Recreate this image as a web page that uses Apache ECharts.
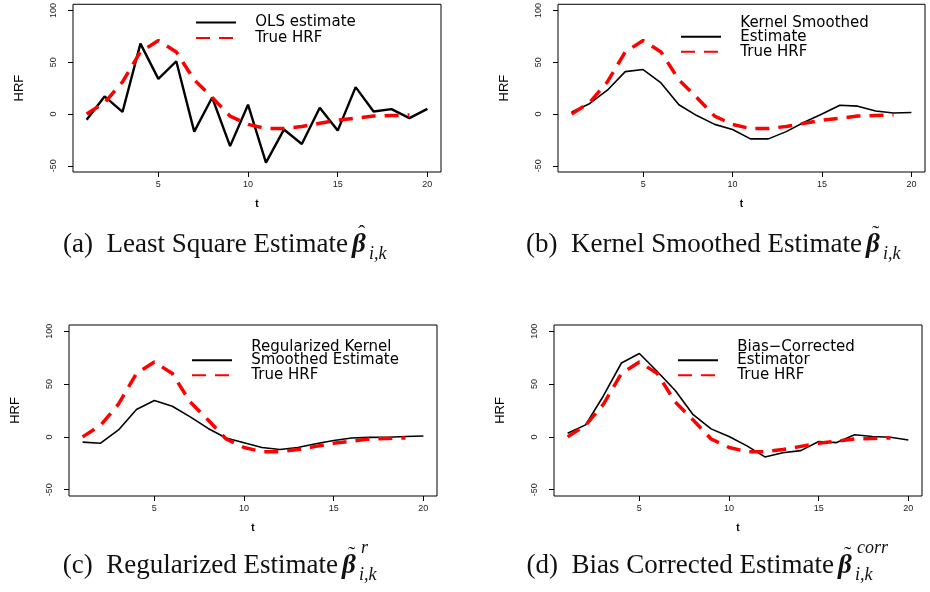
<!DOCTYPE html>
<html>
<head>
<meta charset="utf-8">
<script src="https://cdn.jsdelivr.net/npm/echarts@6/dist/echarts.min.js"></script>
<style>
  html, body { margin: 0; padding: 0; background: #fff; }
  #chart { width: 930px; height: 592px; }
</style>
</head>
<body>
<div id="chart"></div>
<script>
// time points and tick labels
const tValues = [1, 2, 3, 4, 5, 6, 7, 8, 9, 10, 11, 12, 13, 14, 15, 16, 17, 18, 19, 20]
const xTicks = [5, 10, 15, 20]
const yTicks = [-50, 0, 50, 100]

// true HRF (red dashed, drawn in every panel)
const trueHRF = [0, 11, 31, 60, 71, 60, 33, 16, -2, -10, -14, -14, -12, -9, -6, -4, -2, -1.5, -1]

// estimates (black)
const olsEst = [-5.5, 17, 2, 68, 34, 51, -17, 16, -31, 9, -47, -15, -29, 6, -16, 26, 2.5, 4.7, -4, 5]
const kernelEst = [2, 10, 23, 41, 43, 30, 9, -1.5, -10, -15, -24, -24, -17, -8, 0, 8.5, 7.6, 3, 1, 1.5]
const regEst = [-5, -6, 6.6, 26, 34.5, 29, 19, 8, -1, -5.5, -10, -12, -10, -6.5, -3.5, -1, -0.5, -0.3, 0.3, 0.8]
const biasEst = [3.5, 11.4, 39, 70, 79, 62, 44, 21, 7.6, 0.3, -8.5, -19, -15, -13, -4.4, -5.4, 2, 0.3, -0.3, -3]

const estNames = ['OLS estimate', 'Kernel Smoothed\nEstimate', 'Regularized Kernel\nSmoothed Estimate', 'Bias\u2212Corrected\nEstimator']
const estData = [olsEst, kernelEst, regEst, biasEst]

const pairs = (ys) => ys.map((y, i) => [tValues[i], y])

const chart = echarts.init(document.getElementById('chart'))

const grids = [
  { left: 73, top: 2, width: 368, height: 170 },
  { left: 558, top: 2, width: 367, height: 170 },
  { left: 69, top: 325, width: 368, height: 171 },
  { left: 554, top: 325, width: 368, height: 171 },
]

const LH = 13.5
const legendPos = [
  { left: 195, top: 15, itemGap: 0.5 },
  { left: 680, top: 15.75, itemGap: -LH },
  { left: 191, top: 339.25, itemGap: -LH },
  { left: 677, top: 339.25, itemGap: -LH },
]

const xAxes = grids.map((g, i) => ({
  type: 'value',
  gridIndex: i,
  min: 0.24,
  max: 20.76,
  axisLine: { show: false, onZero: false },
  splitLine: { show: false },
  axisTick: { show: true, length: 5, customValues: xTicks, lineStyle: { color: '#000' } },
  axisLabel: { customValues: xTicks, fontSize: 9, color: '#222', margin: 8, fontFamily: 'Liberation Sans' },
  name: 't',
  nameLocation: 'middle',
  nameGap: 27,
  nameTextStyle: { fontSize: 10, fontWeight: 'bold', color: '#000', fontFamily: 'Liberation Sans' },
}))

const yAxes = grids.map((g, i) => ({
  type: 'value',
  gridIndex: i,
  min: -56,
  max: 106,
  axisLine: { show: false, onZero: false },
  splitLine: { show: false },
  axisTick: { show: true, length: 5, customValues: yTicks, lineStyle: { color: '#000' } },
  axisLabel: { customValues: yTicks, rotate: 90, fontSize: 9, color: '#222', margin: 15, fontFamily: 'Liberation Sans' },
  name: 'HRF',
  nameLocation: 'middle',
  nameGap: 47,
  nameTextStyle: { fontSize: 13, color: '#000', fontFamily: 'Liberation Sans' },
}))

const series = []
estData.forEach((ys, i) => {
  series.push({
    name: estNames[i],
    type: 'line',
    xAxisIndex: i,
    yAxisIndex: i,
    data: pairs(ys),
    symbol: 'none',
    lineStyle: { color: '#000', width: i === 0 ? 2.4 : 1.6 },
    itemStyle: { color: '#000' },
    z: 3,
  })
  series.push({
    name: 'True HRF',
    type: 'line',
    xAxisIndex: i,
    yAxisIndex: i,
    data: pairs(trueHRF),
    symbol: 'none',
    lineStyle: { color: '#ff0000', width: 3.5, type: [14, 9] },
    itemStyle: { color: '#ff0000' },
    z: 4,
  })
})

// two-line entries get an empty third line so the sample sits on line two;
// leading spaces push the text away from the sample like R does
const legendLabel = (name) => {
  const lines = name.split('\n').map((s) => '   ' + s)
  if (lines.length > 1) lines.push(' ')
  return lines.join('\n')
}
const legends = legendPos.map((p, i) => ({
  orient: 'vertical',
  left: p.left,
  top: p.top,
  padding: 0,
  itemGap: p.itemGap,
  itemWidth: 40,
  itemHeight: LH,
  selectedMode: false,
  itemStyle: { opacity: 0 },
  formatter: legendLabel,
  textStyle: { fontSize: 15, lineHeight: LH, color: '#000', fontFamily: 'DejaVu Sans' },
  data: [estNames[i], 'True HRF'],
}))

// captions below each panel
const SERIF = 'Liberation Serif'
const captions = [
  { text: '(a)  Least Square Estimate', bx: 352, base: 253, accent: '\u02c6', sup: '' },
  { text: '(b)  Kernel Smoothed Estimate', bx: 866, base: 253, accent: '\u02dc', sup: '' },
  { text: '(c)  Regularized Estimate', bx: 342, base: 574, accent: '\u02dc', sup: 'r' },
  { text: '(d)  Bias Corrected Estimate', bx: 838, base: 574, accent: '\u02dc', sup: 'corr' },
]
const graphic = []
captions.forEach((c) => {
  graphic.push({ type: 'text', style: { text: c.text, x: c.bx - 4, y: c.base - 8, textAlign: 'right', textVerticalAlign: 'middle', font: '27px ' + SERIF, fill: '#111' } })
  graphic.push({ type: 'text', style: { text: '\u03b2', x: c.bx, y: c.base - 8, textAlign: 'left', textVerticalAlign: 'middle', font: 'italic bold 27px ' + SERIF, fill: '#111' } })
  graphic.push({ type: 'text', style: { text: c.accent, x: c.bx + 6, y: c.base - 19, textAlign: 'left', textVerticalAlign: 'middle', font: '22px ' + SERIF, fill: '#111' } })
  graphic.push({ type: 'text', style: { text: 'i,k', x: c.bx + 17, y: c.base + 1, textAlign: 'left', textVerticalAlign: 'middle', font: 'italic 18px ' + SERIF, fill: '#111' } })
  if (c.sup) {
    graphic.push({ type: 'text', style: { text: c.sup, x: c.bx + 19, y: c.base - 26, textAlign: 'left', textVerticalAlign: 'middle', font: 'italic 18px ' + SERIF, fill: '#111' } })
  }
})

const option = {
  animation: false,
  backgroundColor: '#fff',
  grid: grids.map((g) => ({ ...g, show: true, borderColor: '#000', borderWidth: 1, backgroundColor: 'transparent' })),
  xAxis: xAxes,
  yAxis: yAxes,
  legend: legends,
  series,
  graphic,
}
option && chart.setOption(option)
</script>
</body>
</html>
